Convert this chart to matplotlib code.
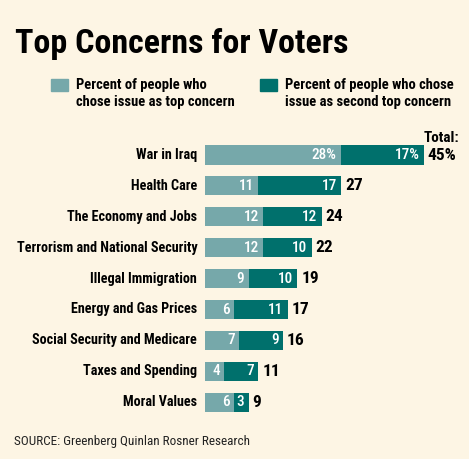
import matplotlib
matplotlib.use("Agg")
import matplotlib.pyplot as plt
from matplotlib.patches import Rectangle

categories = ["War in Iraq", "Health Care", "The Economy and Jobs",
              "Terrorism and National Security", "Illegal Immigration",
              "Energy and Gas Prices", "Social Security and Medicare",
              "Taxes and Spending", "Moral Values"]
top_concern = [28, 11, 12, 12, 9, 6, 7, 4, 6]
second_concern = [17, 17, 12, 10, 10, 11, 9, 7, 3]
totals = [45, 27, 24, 22, 19, 17, 16, 11, 9]

BG = "#fdf5e4"
LIGHT = "#76a8aa"
DARK = "#00706c"
FAM = ["Roboto Condensed", "DejaVu Sans"]

W, H = 469, 459
fig = plt.figure(figsize=(W / 100, H / 100), dpi=100, facecolor=BG)

scale = 4.86  # px per unit
x0 = 205
row0 = 155
step = 30.9
top_px = row0 - step / 2
height_px = step * 9
ax = fig.add_axes([x0 / W, 1 - (top_px + height_px) / H, (W - x0) / W, height_px / H])
ax.set_facecolor(BG)
ax.set_xlim(0, (W - x0) / scale)
ax.set_ylim(8.5, -0.5)
ax.axis("off")

ys = list(range(len(categories)))
bh = 0.62
ax.barh(ys, top_concern, height=bh, color=LIGHT, edgecolor="none")
ax.barh(ys, second_concern, left=top_concern, height=bh, color=DARK, edgecolor="none")

pad = 0.9
for i, (a, b, t) in enumerate(zip(top_concern, second_concern, totals)):
    sa = f"{a}%" if i == 0 else f"{a}"
    sb = f"{b}%" if i == 0 else f"{b}"
    ax.text(a - pad, i, sa, ha="right", va="center", color="white",
            fontsize=11, family=FAM, fontweight="medium")
    ax.text(a + b - pad, i, sb, ha="right", va="center", color="white",
            fontsize=11, family=FAM, fontweight="medium")
    st = f"{t}%" if i == 0 else f"{t}"
    ax.text(a + b + 0.8, i, st, ha="left", va="center", color="black",
            fontsize=12.5, family=FAM, fontweight="bold")
    ax.text(-1.6, i, categories[i], ha="right", va="center", color="black",
            fontsize=10.2, family=FAM, fontweight="bold")

ax.text(top_concern[0] + second_concern[0] + 0.8 + 6.6, -0.56, "Total:",
        ha="right", va="center", color="black", fontsize=11, family=FAM, fontweight="bold")

fig.text(15 / W, 1 - 53 / H, "Top Concerns for Voters", ha="left", va="baseline",
         fontsize=24.5, family=FAM, fontweight="bold", color="black")

# legend
for (lx, col, txt) in [(51, LIGHT, "Percent of people who\nchose issue as top concern"),
                       (260, DARK, "Percent of people who chose\nissue as second top concern")]:
    fig.patches.append(Rectangle((lx / W, 1 - 91 / H), 17 / W, 12 / H,
                                 transform=fig.transFigure, color=col))
    fig.text((lx + 25) / W, 1 - 78 / H, txt, ha="left", va="top", fontsize=10.5,
             family=FAM, fontweight="bold", color="black", linespacing=1.3)

fig.text(14 / W, 1 - 445 / H, "SOURCE: Greenberg Quinlan Rosner Research", ha="left",
         va="baseline", fontsize=9.5, family=FAM, color="#222222")

fig.savefig("out.png", dpi=100, facecolor=BG)
